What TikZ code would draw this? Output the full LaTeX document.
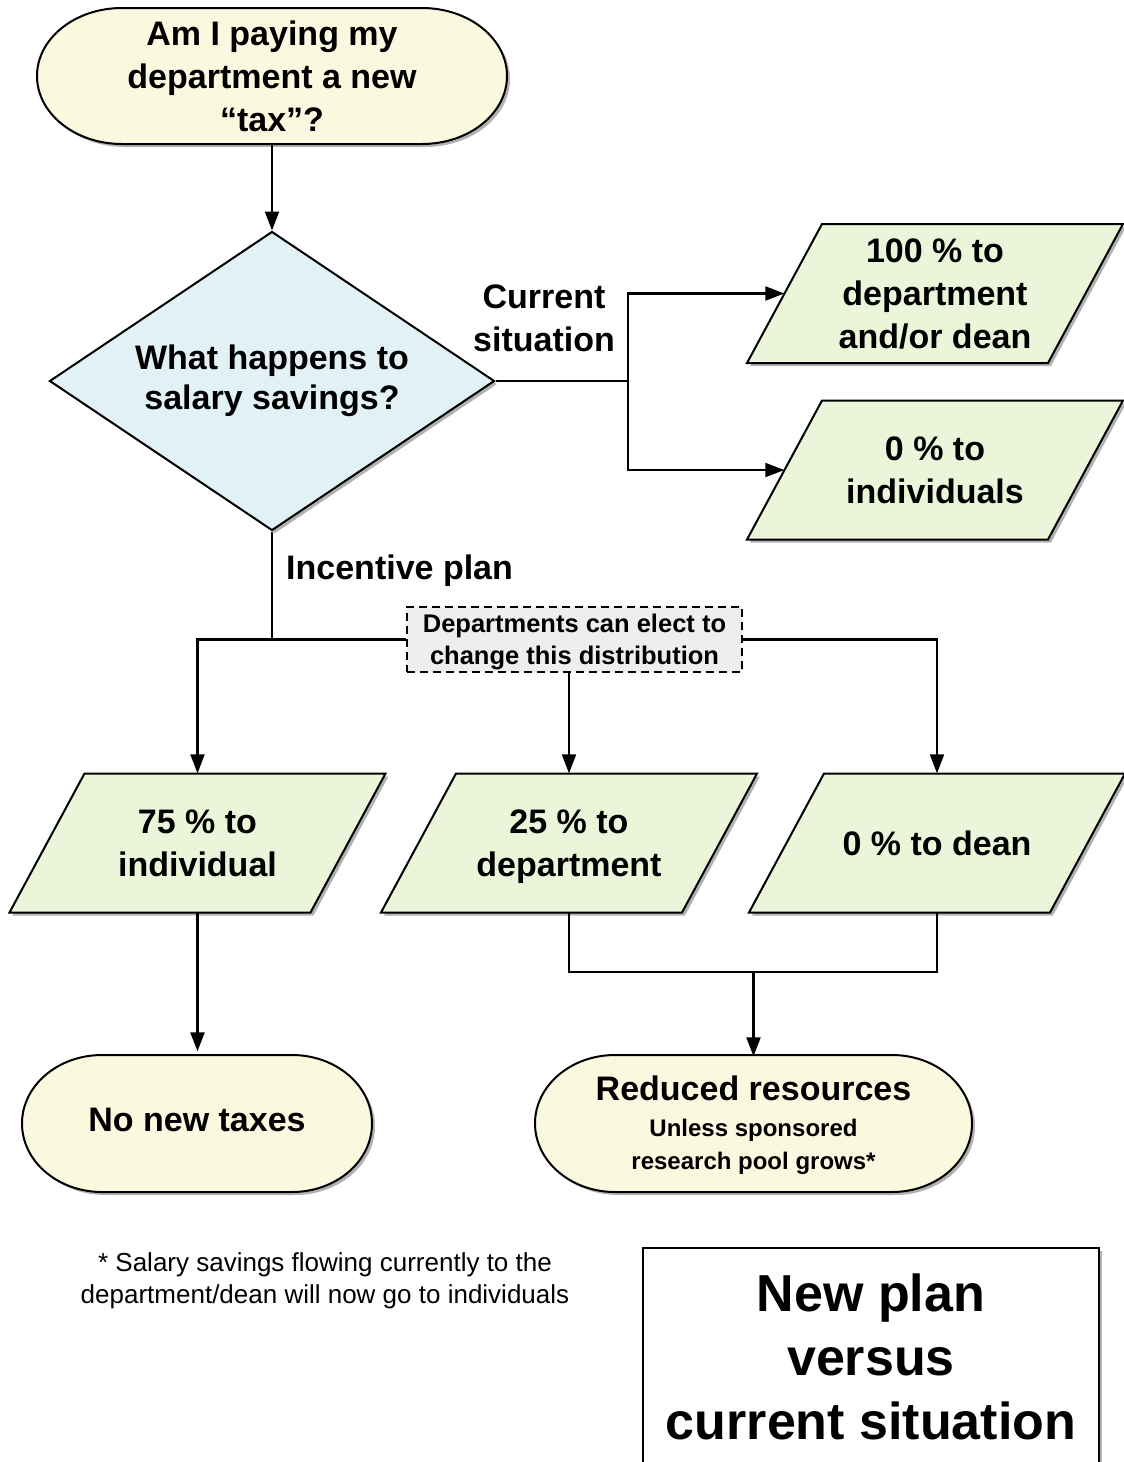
\documentclass[tikz,border=0pt]{standalone}
\usepackage{fontspec}
\setmainfont{Liberation Sans}
\usetikzlibrary{shapes.geometric,arrows.meta,shadows,calc}
\definecolor{termfill}{HTML}{FBF8E0}
\definecolor{decfill}{HTML}{E2F1F5}
\definecolor{iofill}{HTML}{EAF5DA}
\definecolor{notefill}{HTML}{EEEEEE}
\newcommand\fbig{\fontsize{34}{43}\selectfont\bfseries}
\tikzset{
  outline/.style={draw=black, line width=2pt},
  shad/.style={drop shadow={shadow xshift=3pt, shadow yshift=-3pt, opacity=0.3, fill=black}},
  termpath/.style={outline, fill=termfill, shad},
  iopath/.style={outline, fill=iofill, shad},
  txt/.style={inner sep=0pt, align=center, font=\fbig},
  iotext/.style={txt, minimum width=376pt, minimum height=139pt},
  dec/.style={diamond, shape aspect=1.49, inner sep=0pt, minimum width=445pt, minimum height=299pt,
    outline, fill=decfill, shad, align=center, font=\fontsize{34}{40}\selectfont\bfseries},
  lbl/.style={inner sep=0pt, align=center, font=\fbig},
  notebox/.style={draw=black, line width=1.8pt, dash pattern=on 8pt off 5pt, fill=notefill,
    minimum width=335pt, minimum height=65pt, inner sep=0pt, align=center,
    font=\fontsize{25.5}{32}\selectfont\bfseries},
  conn/.style={line width=2.2pt},
  arr/.style={conn, -{Triangle[length=19pt,width=14pt]}},
  foot/.style={inner sep=0pt, align=center, font=\fontsize{26}{32}\selectfont},
  titlebox/.style={draw=black, line width=1.8pt, fill=white, shad, minimum width=456pt,
    minimum height=218pt, inner sep=0pt, align=center, font=\fontsize{52}{64}\selectfont\bfseries}
}
% terminal: cx cy halfwidth halfheight endradius
\newcommand\termshape[5]{%
  \draw[termpath] (#1-#3+#5,#2-#4) -- (#1+#3-#5,#2-#4)
    arc[start angle=90,end angle=-90,x radius=#5pt,y radius=#4pt]
    -- (#1-#3+#5,#2+#4)
    arc[start angle=-90,end angle=-270,x radius=#5pt,y radius=#4pt] -- cycle;}
% parallelogram: cx cy
\newcommand\ioshape[2]{%
  \draw[iopath] (#1-188,#2+69.5) -- (#1+113,#2+69.5) -- (#1+188,#2-69.5) -- (#1-113,#2-69.5) -- cycle;}
\begin{document}
\begin{tikzpicture}[x=1pt,y=-1pt]
\useasboundingbox (0,0) rectangle (1124,1462);

% start terminal
\termshape{272}{76}{235}{68}{85}
\node[txt, minimum width=470pt, minimum height=136pt] (t0) at (272,76) {Am I paying my\\department a new\\“tax”?};

% decision
\node[dec] (d) at (272,381) {What happens to\\salary savings?};

% current situation outputs
\ioshape{935}{293.5}
\node[iotext] (r1) at (935,293.5) {100 \% to\\department\\and/or dean};
\ioshape{935}{470}
\node[iotext] (r2) at (935,470) {0 \% to\\individuals};

\node[lbl] (cs) at (544,318) {Current\\situation};
\coordinate (j) at (628,381);
\draw[conn] (d.east) -- (j);
\draw[arr] (j) |- ($(r1.west)+(37.5,0)$);
\draw[arr] (j) |- ($(r2.west)+(37.5,0)$);

% incentive plan
\node[lbl, anchor=base west] (ip) at (286,579) {Incentive plan};
\node[notebox] (nb) at (574.5,639.5) {Departments can elect to\\\smash{change this distribution}};

\ioshape{197.5}{843}
\node[iotext] (p1) at (197.5,843) {75 \% to\\individual};
\ioshape{569}{843}
\node[iotext] (p2) at (569,843) {25 \% to\\\smash{department}};
\ioshape{937}{843}
\node[iotext] (p3) at (937,843) {0 \% to dean};

\draw[conn] (d.south) -- (d.south |- nb.west);
\draw[arr] (nb.west) -| (p1.north);
\draw[arr] (nb.east) -| (p3.north);
\draw[arr] (nb.south -| p2.north) -- (p2.north);

% end terminals
\termshape{197}{1123.5}{175}{68.5}{80}
\node[txt, minimum width=350pt, minimum height=137pt] (t1) at (197,1120) {No new taxes};
\termshape{753.5}{1123.5}{218.5}{68.5}{80}
\node[txt, minimum width=437pt, minimum height=137pt, font=\fontsize{24}{33}\selectfont\bfseries] (t2) at (753.5,1125)
  {{\fontsize{34}{40}\selectfont Reduced resources}\\[3pt]Unless sponsored\\research pool grows*};

\coordinate (jb) at (753.5,972);
\draw[arr] (t0.south) -- (d.north);
\draw[arr] (p1.south) -- (p1.south |- t1.north);
\draw[conn] (p2.south) |- (jb) -| (p3.south);
\draw[arr] (jb) -- (jb |- t2.north);

% footnote and title
\node[foot] (fn) at (325,1281) {* Salary savings flowing currently to the\\department/dean will now go to individuals};
\node[titlebox] (tb) at (871,1357) {New plan\\versus\\current situation};
\end{tikzpicture}
\end{document}
